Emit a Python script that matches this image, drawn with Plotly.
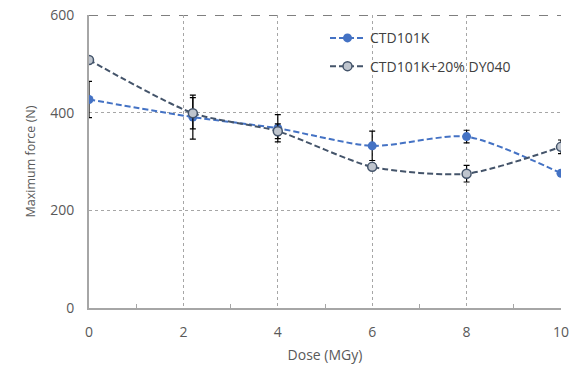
import plotly.graph_objects as go

dose = [0, 2.2, 4, 6, 8, 10]
ctd101k = [427, 391, 368, 332, 351, 276]
ctd101k_err = [37, 45, 28, 30, 13, 5]
ctd_dy040 = [508, 399, 362, 289, 275, 330]
ctd_dy040_err = [5, 32, 15, 5, 17, 14]
x_ticks = [0, 2, 4, 6, 8, 10]
y_ticks = [0, 200, 400, 600]

fig = go.Figure()
fig.add_trace(go.Scatter(
    x=dose, y=ctd101k, name="CTD101K", mode="lines+markers", legendgroup="a",
    line=dict(color="#4472C4", width=2, dash="6px,3px", shape="spline", smoothing=0.7),
    marker=dict(color="#4472C4", size=9, symbol="circle"),
    error_y=dict(type="data", array=ctd101k_err, color="black", thickness=1.2, width=3),
))
fig.add_trace(go.Scatter(
    x=dose, y=ctd_dy040, name="CTD101K+20% DY040", mode="lines+markers", legendgroup="b",
    line=dict(color="#44546A", width=2, dash="6px,3px", shape="spline", smoothing=0.7),
    marker=dict(color="#BFC5CE", size=9, symbol="circle", line=dict(color="#44546A", width=1.5)),
    error_y=dict(type="data", array=ctd_dy040_err, color="black", thickness=1.2, width=3),
))

fig.add_shape(type="line", xref="x", yref="y", x0=0, x1=10, y0=600, y1=600,
              line=dict(color="black", width=1.2, dash="dash"), layer="below")

fig.update_layout(
    width=584, height=367,
    margin=dict(l=89, r=23, t=15, b=59),
    paper_bgcolor="white", plot_bgcolor="white",
    font=dict(family="Open Sans", size=14, color="#595959"),
    showlegend=True,
    legend=dict(x=0.50, y=0.975, xanchor="left", yanchor="top", bgcolor="rgba(0,0,0,0)",
                font=dict(size=14, color="#404040"), itemwidth=35,
                traceorder="grouped", tracegroupgap=7),
)
fig.update_xaxes(
    range=[0, 10], tickvals=x_ticks, ticktext=[str(v) for v in x_ticks],
    showgrid=True, gridcolor="#A6A6A6", griddash="dot", gridwidth=1,
    showline=True, linecolor="#A6A6A6", linewidth=2, automargin=False,
    zeroline=False, ticks="", ticklabelstandoff=10,
    minor=dict(tickvals=[1, 3, 5, 7, 9], ticks="inside", ticklen=4, tickcolor="#A6A6A6", showgrid=False),
    title=dict(text="Dose (MGy)", font=dict(size=14, color="#595959"), standoff=10),
)
fig.update_yaxes(
    range=[0, 600], tickvals=y_ticks,
    showgrid=True, gridcolor="#A6A6A6", griddash="dot", gridwidth=1,
    showline=True, linecolor="#A6A6A6", linewidth=2, automargin=False,
    zeroline=False, ticks="", ticklabelstandoff=10,
    title=dict(text="Maximum force (N)", font=dict(size=12.5, color="#595959"), standoff=12),
)
fig.write_html("out.html", config={"displayModeBar": False},
               post_script="document.body.style.margin='0px';")
